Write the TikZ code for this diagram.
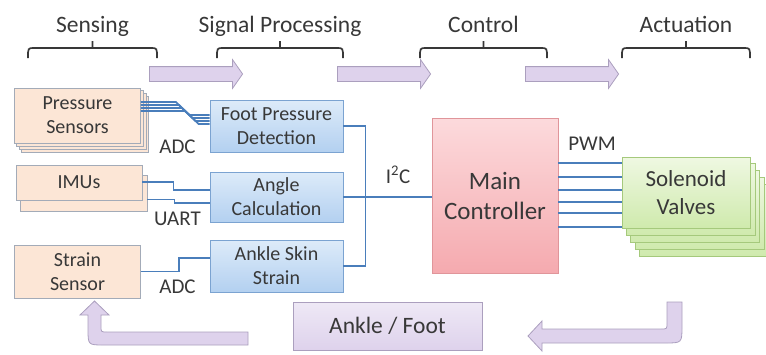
\documentclass[tikz,border=0pt]{standalone}
\usepackage{fontspec}
\setmainfont{Carlito}
\usetikzlibrary{shapes.arrows, backgrounds, calc}
\definecolor{txtgray}{HTML}{383838}
\definecolor{wireblue}{HTML}{4A7EBB}
\definecolor{sensorfill}{HTML}{FCE6D6}
\definecolor{sensorline}{HTML}{A3ABB8}
\definecolor{proctop}{HTML}{DDEBF9}
\definecolor{procbot}{HTML}{B3D0F0}
\definecolor{procline}{HTML}{7BA3D1}
\definecolor{mctop}{HTML}{FCDADC}
\definecolor{mcbot}{HTML}{F5AAAF}
\definecolor{mcline}{HTML}{E0959A}
\definecolor{svtop}{HTML}{EFF8E2}
\definecolor{svbot}{HTML}{CFEAAD}
\definecolor{svline}{HTML}{A5C97C}
\definecolor{flowfill}{HTML}{DED2EC}
\definecolor{flowline}{HTML}{AB9FBE}

\begin{document}
\begin{tikzpicture}[
    x=1pt, y=-1pt,
    font=\fontsize{20}{24}\selectfont, text=txtgray,
    head/.style={font=\fontsize{23.5}{28}\selectfont},
    lbl/.style={font=\fontsize{21}{24}\selectfont, anchor=base},
    sensor/.style={rectangle, draw=sensorline, fill=sensorfill, line width=0.8pt, align=center, minimum width=126pt, inner sep=0pt},
    sensorstack/.style={draw=sensorline, fill=sensorfill, line width=0.8pt},
    proc/.style={rectangle, draw=procline, top color=proctop, bottom color=procbot, line width=0.8pt, align=center, minimum width=133pt, inner sep=0pt},
    ctrl/.style={rectangle, draw=mcline, top color=mctop, bottom color=mcbot, line width=0.8pt, align=center, minimum width=126pt, minimum height=155pt, font=\fontsize{25}{30}\selectfont},
    valve/.style={rectangle, draw=svline, top color=svtop, bottom color=svbot, line width=0.8pt, align=center, minimum width=128pt, minimum height=71pt, font=\fontsize{23}{28}\selectfont},
    valvestack/.style={draw=svline, top color=svtop, bottom color=svbot, line width=0.8pt},
    plant/.style={rectangle, draw=flowline, top color=flowfill!50!white, bottom color=flowfill, line width=0.8pt, minimum width=189pt, minimum height=48pt, font=\fontsize{23.5}{28}\selectfont},
    flow/.style={single arrow, draw=flowline, fill=flowfill, line width=0.8pt, minimum height=93pt, single arrow head extend=7pt, single arrow tip angle=110, inner xsep=0pt, inner ysep=7pt},
    bigarrow/.style={draw=flowline, fill=flowfill, line width=0.8pt},
    wire/.style={draw=wireblue, line width=1.7pt},
    brace/.style={draw=txtgray, line width=1.7pt}
]
\useasboundingbox (0,0) rectangle (766,354);

% stage headings
\node[head, anchor=base] (hsense) at (92.5,32) {Sensing};
\node[head, anchor=base] (hproc) at (280,32) {Signal Processing};
\node[head, anchor=base] (hctrl) at (483.5,32) {Control};
\node[head, anchor=base] (hact) at (686,32) {Actuation};
\foreach \xa/\xb in {28/157, 217/343, 420/547, 622/750}
  \draw[brace] (\xa,58) .. controls (\xa,48) .. (\xa+6,48) -- (\xb-6,48) .. controls (\xb,48) .. (\xb,58)
    ({(\xa+\xb)/2},48) -- ({(\xa+\xb)/2},41);

\node[flow] (fa1) at (193.5,74) {};
\node[flow] (fa2) at (381.5,74) {};
\node[flow] (fa3) at (569.5,74) {};

% sensors
\node[sensor, minimum height=55pt] (ps) at (77.5,115.5) {Pressure\\Sensors};
\node[sensor, minimum height=35pt] (imu) at (79,182.5) {IMUs};
\node[sensor, minimum height=53pt] (ss) at (77.5,271.5) {Strain\\Sensor};

% signal processing
\node[proc, minimum height=52pt] (fpd) at (276.5,126) {Foot Pressure\\Detection};
\node[proc, minimum height=50pt] (angle) at (276.5,197) {Angle\\Calculation};
\node[proc, minimum height=52pt] (skin) at (276.5,266) {Ankle Skin\\Strain};

\node[ctrl] (mc) at (495,195.5) {Main\\Controller};
\node[valve] (sv) at (686,192.5) {Solenoid\\Valves};
\node[plant] (ankle) at (387.5,326) {Ankle / Foot};

\begin{scope}[on background layer]
  \foreach \i in {3,2,1}
    \draw[sensorstack] ($(ps.south west)+(2.5*\i,3*\i)$) rectangle ($(ps.north east)+(2.5*\i,3*\i)$);
  \draw[sensorstack] ($(imu.south west)+(5,11)$) rectangle ($(imu.north east)+(5,11)$);
  \foreach \i in {4,3,2,1}
    \draw[valvestack] ($(sv.south west)+(4.5*\i,7*\i)$) rectangle ($(sv.north east)+(4.5*\i,7*\i)$);
\end{scope}

% wiring
\foreach \i in {0,...,3}
  \draw[wire] ($(ps.east)+(0,-13.5+3*\i)$) -- ++(35+3*\i,0) -- ($(fpd.west)+(-20+3*\i,-11+3*\i)$) -- ($(fpd.west)+(0,-11+3*\i)$);
\draw[wire] ($(imu.east)+(0,-0.5)$) -- ++(31,0) |- ($(angle.west)+(0,-7)$);
\draw[wire] ($(imu.east)+(5,17)$) -- ++(27,0) |- ($(angle.west)+(0,6)$);
\draw[wire] (ss.east) -- ++(38,0) |- ($(skin.west)+(0,-8)$);
\draw[wire] (fpd.east) -- ++(22,0) |- (skin.east);
\draw[wire] (angle.east) -- (angle.east -| mc.west);
\foreach \dy in {32.5,18.5,5.5,-6.5,-17.5,-31.5}
  \draw[wire] ([yshift=\dy pt]mc.east) -- ([yshift=\dy pt]mc.east -| sv.west);

\node[lbl] (adcA) at (177.5,153) {ADC};
\node[lbl] (uart) at (177.5,225) {UART};
\node[lbl] (adcB) at (177.5,293) {ADC};
\node[lbl] (i2c) at (398,183) {I\textsuperscript{2}C};
\node[lbl] (pwm) at (592,150) {PWM};

% feedback arrows
\draw[bigarrow] (667,302) -- (682,302) -- (682,326) .. controls (682,343) .. (665,343) -- (542,343) -- (542,351)
  -- (528,336) -- (542,321) -- (542,329) -- (661,329) .. controls (667,329) .. (667,323) -- cycle;
\draw[bigarrow] (248,332) -- (248,345) -- (104,345) .. controls (88,345) .. (88,329) -- (88,315) -- (80,315)
  -- (94.5,301) -- (109,315) -- (101,315) -- (101,326) .. controls (101,332) .. (107,332) -- cycle;
\end{tikzpicture}
\end{document}
